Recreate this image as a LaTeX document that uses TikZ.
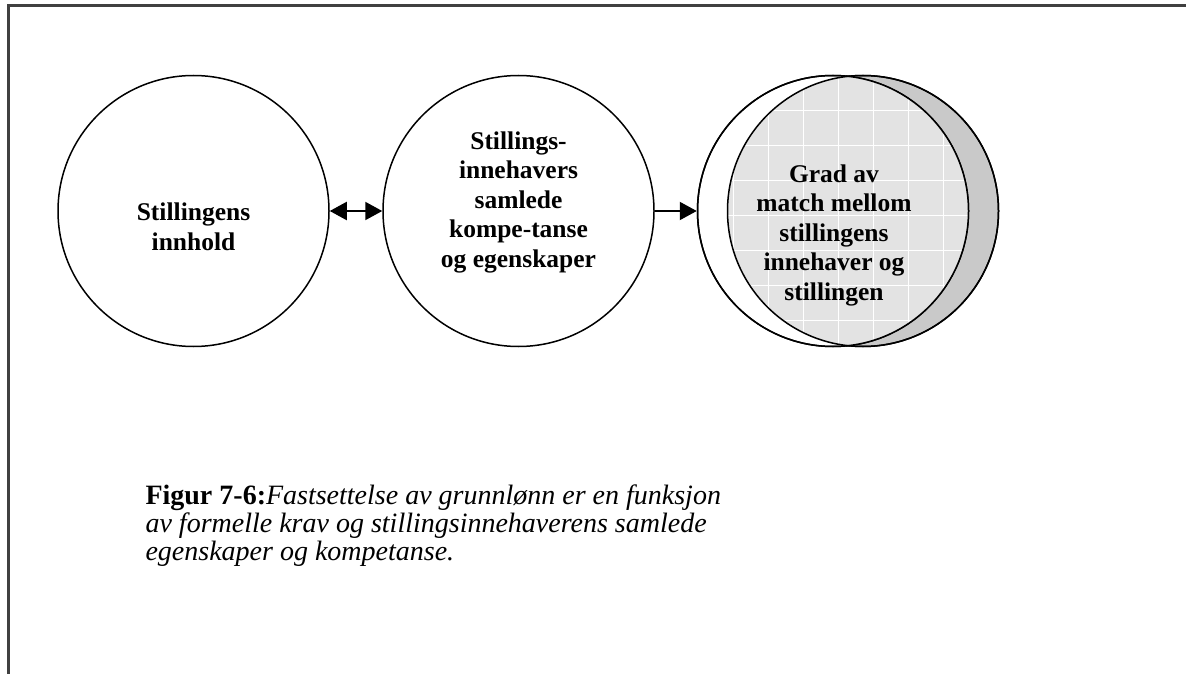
\documentclass[tikz,border=0pt]{standalone}
\usepackage{fontspec}
\setmainfont{Liberation Serif}
\usepackage{xcolor}
\usetikzlibrary{arrows.meta}

\tikzset{
  bubble/.style={circle, draw=black, line width=1.5pt, minimum size=271pt, inner sep=0pt},
  bubbletext/.style={align=center, font=\bfseries\fontsize{25.5}{29.5}\selectfont},
  linkarrow/.style={line width=2pt, -{Triangle[length=17pt,width=18pt]}},
  framerule/.style={line width=2.5pt, black!75}
}

\begin{document}
\begin{tikzpicture}[x=1pt, y=-1pt]
        % Page size of the picture
        \useasboundingbox (0,0) rectangle (1186,674);

        % Frame round the figure (top and left only)
        \draw[framerule] (8.5,674) -- (8.5,5.5) -- (1186,5.5);

        % The two plain circles
        \node[bubble] (innhold) at (193.5,211) {};
        \node[bubble] (innehaver) at (518.5,211) {};

        % Overlapping circles: the right one is grey, the overlap is a grid
        \node[bubble, fill=gray!42] (stillingB) at (863,211) {};
        \node[bubble, fill=white] (stillingA) at (833,211) {};
        \begin{scope}
          \clip (833,211) circle (135.5);
          \clip (863,211) circle (135.5);
          \fill[gray!22] (690,60) rectangle (1010,360);
          \foreach \gx in {733,768,...,978}
            \draw[white, line width=0.9pt] (\gx,60) -- (\gx,360);
          \foreach \gy in {75,110,...,355}
            \draw[white, line width=0.9pt] (690,\gy) -- (1010,\gy);
        \end{scope}
        \draw[line width=1.5pt] (stillingB.center) circle (135.5);
        \draw[line width=1.5pt] (stillingA.center) circle (135.5);

        % Texts in the circles
        \node[bubbletext] (innholdtxt) at (193.5,227) {Stillingens\\innhold};
        \node[bubbletext] (innehavertxt) at (518.5,202) {Stillings-\\innehavers\\samlede\\kompe-tanse\\og egenskaper};
        \node[bubbletext] (matchtxt) at (834,235) {Grad av\\match mellom\\stillingens\\innehaver og\\stillingen};

        % Connectors
        \draw[linkarrow, {Triangle[length=17pt,width=18pt]}-{Triangle[length=17pt,width=18pt]}] (innhold.east) -- (innehaver.west);
        \draw[linkarrow] (innehaver.east) -- (stillingA.west);

        % Caption
        \node[anchor=base west, align=left, font=\fontsize{28}{28}\selectfont] (caption) at (142,560)
          {\textbf{Figur 7-6:}\textit{Fastsettelse av grunnlønn er en funksjon}\\
           \textit{av formelle krav og stillingsinnehaverens samlede}\\
           \textit{egenskaper og kompetanse.}};
\end{tikzpicture}
\end{document}
